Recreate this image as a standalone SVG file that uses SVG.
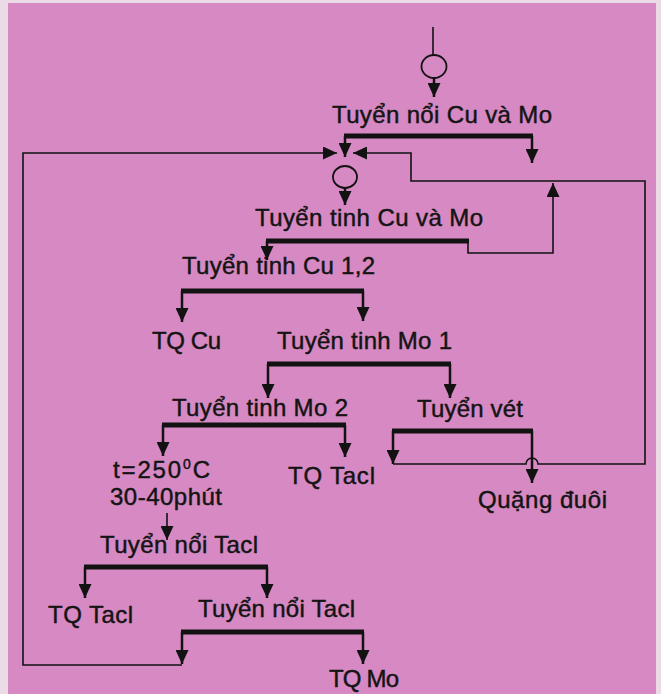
<svg xmlns="http://www.w3.org/2000/svg" width="661" height="694" viewBox="0 0 661 694">
<defs>
<style>
text{font-family:"Liberation Sans",Arial,sans-serif;font-size:24px;fill:#141414;stroke:#141414;stroke-width:0.45}
.bar{stroke:#121212;stroke-width:5;fill:none}
.drop{stroke:#121212;stroke-width:2.5;fill:none;marker-end:url(#ah)}
.thin{stroke:#121212;stroke-width:1.6;fill:none}
.thinA{stroke:#121212;stroke-width:1.6;fill:none;marker-end:url(#ah)}
.circ{fill:none;stroke:#121212;stroke-width:1.8}
</style>
<marker id="ah" markerUnits="userSpaceOnUse" markerWidth="14" markerHeight="13" viewBox="0 0 14 13" refX="14" refY="6.5" orient="auto">
<path d="M0,0 L14,6.5 L0,13 z" fill="#121212"/>
</marker>
</defs>
<rect x="0" y="0" width="661" height="694" fill="#eadbe6"/>
<rect x="8" y="3" width="648" height="691" fill="#d689c2"/>

<g id="connectors">
<line class="thin" x1="433" y1="27" x2="433" y2="55"/>
<line class="drop" x1="434" y1="78" x2="434" y2="97"/>
<line class="drop" x1="345" y1="188" x2="345" y2="205"/>
<line class="bar" x1="344" y1="136" x2="533" y2="136"/>
<line class="drop" x1="345" y1="136" x2="345" y2="157"/>
<line class="drop" x1="532" y1="136" x2="532" y2="163"/>
<polyline class="thinA" points="182,665 23,665 23,153 337,153"/>
<path class="thinA" d="M393,464 H526 A6,6 0 0 1 538,464 H645 V181 H411 V153 H353"/>
<polyline class="thinA" points="468,241 468,253 553,253 553,183"/>
<line class="bar" x1="266" y1="241" x2="469" y2="241"/>
<line class="drop" x1="267" y1="241" x2="267" y2="260"/>
<line class="bar" x1="181" y1="291" x2="364" y2="291"/>
<line class="drop" x1="182" y1="291" x2="182" y2="322"/>
<line class="drop" x1="363" y1="291" x2="363" y2="321"/>
<line class="bar" x1="267" y1="364" x2="451" y2="364"/>
<line class="drop" x1="268" y1="364" x2="268" y2="398"/>
<line class="drop" x1="450" y1="364" x2="450" y2="398"/>
<line class="bar" x1="162" y1="425" x2="346" y2="425"/>
<line class="drop" x1="163" y1="425" x2="163" y2="456"/>
<line class="drop" x1="345" y1="425" x2="345" y2="457"/>
<line class="bar" x1="392" y1="431" x2="533" y2="431"/>
<line class="drop" x1="393" y1="431" x2="393" y2="464"/>
<line class="drop" x1="532" y1="431" x2="532" y2="483"/>
<line class="thinA" x1="167" y1="513" x2="167" y2="540"/>
<line class="bar" x1="84" y1="567" x2="268" y2="567"/>
<line class="drop" x1="85" y1="567" x2="85" y2="598"/>
<line class="drop" x1="267" y1="567" x2="267" y2="598"/>
<line class="bar" x1="181" y1="632" x2="364" y2="632"/>
<line class="drop" x1="182" y1="632" x2="182" y2="664"/>
<line class="drop" x1="363" y1="632" x2="363" y2="664"/>
</g>

<g id="feed_circle"><ellipse class="circ" cx="434" cy="66.5" rx="12.5" ry="11.5"/></g>
<g id="tuyen_noi_cu_mo"><text x="332" y="123" textLength="220">Tuyển nổi Cu và Mo</text></g>
<g id="mix_circle"><ellipse class="circ" cx="345" cy="177" rx="12" ry="11"/></g>
<g id="tuyen_tinh_cu_mo"><text x="255" y="226" textLength="228">Tuyển tinh Cu và Mo</text></g>
<g id="tuyen_tinh_cu12"><text x="182" y="274" textLength="193">Tuyển tinh Cu 1,2</text></g>
<g id="tq_cu"><text x="152" y="349" textLength="69">TQ Cu</text></g>
<g id="tuyen_tinh_mo1"><text x="277" y="349" textLength="175">Tuyển tinh Mo 1</text></g>
<g id="tuyen_tinh_mo2"><text x="172" y="416" textLength="176">Tuyển tinh Mo 2</text></g>
<g id="tuyen_vet"><text x="417" y="417" textLength="106">Tuyển vét</text></g>
<g id="heat"><text x="113" y="478" textLength="97">t=250<tspan font-size="14" dy="-9">0</tspan><tspan dy="9">C</tspan></text><text x="110" y="505" textLength="112">30-40phút</text></g>
<g id="tq_tacl_1"><text x="288" y="484" textLength="87">TQ Tacl</text></g>
<g id="quang_duoi"><text x="478" y="508" textLength="129">Quặng đuôi</text></g>
<g id="tuyen_noi_tacl_1"><text x="100" y="553" textLength="158">Tuyển nổi Tacl</text></g>
<g id="tq_tacl_2"><text x="48" y="623" textLength="85">TQ Tacl</text></g>
<g id="tuyen_noi_tacl_2"><text x="198" y="617" textLength="157">Tuyển nổi Tacl</text></g>
<g id="tq_mo"><text x="329" y="687" textLength="70">TQ Mo</text></g>
</svg>
